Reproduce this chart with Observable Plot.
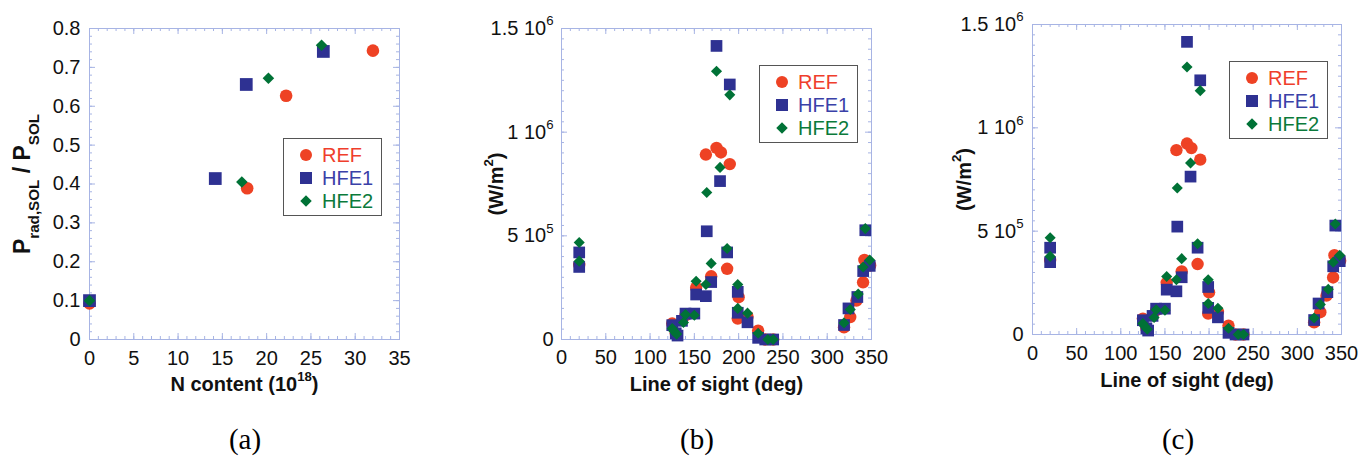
<!DOCTYPE html>
<html><head><meta charset="utf-8">
<script src="https://cdn.jsdelivr.net/npm/d3@7"></script>
<script src="https://cdn.jsdelivr.net/npm/@observablehq/plot@0.6"></script>
<style>
body{margin:0;background:#fff;}
#root{position:relative;width:1359px;height:463px;overflow:hidden;font-family:"Liberation Sans",Arial,sans-serif;background:#fff;}
.panel{position:absolute;top:0;}
.legend{position:absolute;border:1.5px solid #555;background:#fff;box-sizing:border-box;width:99px;height:78px;}
.legend .row{position:absolute;left:0;height:24px;width:100%;}
.legend svg{position:absolute;left:13px;top:3px;}
.legend span{position:absolute;left:38px;top:0;font-size:20px;line-height:24px;}
.caption{position:absolute;width:100px;text-align:center;font-family:"Liberation Serif","DejaVu Serif",serif;font-size:29px;line-height:30px;}
</style></head><body><div id="root"></div>
<script>
// ---------- data ----------
const seriesNames = ["REF", "HFE1", "HFE2"];
const seriesColors = ["#ee4224", "#2e3192", "#007236"];
const seriesTextColors = ["#ef3e2c", "#3a41a8", "#0b7a3b"];
const seriesSymbols = ["circle", "square", "diamond2"];

// panel (a): N content vs Prad,SOL / PSOL
const nRef = [0, 17.8, 22.2, 32.0];
const pRef = [0.093, 0.389, 0.627, 0.743];
const nHfe1 = [0, 14.2, 17.7, 26.4];
const pHfe1 = [0.100, 0.414, 0.656, 0.741];
const nHfe2 = [0, 17.2, 20.2, 26.2];
const pHfe2 = [0.100, 0.405, 0.672, 0.757];

// panels (b) and (c): line of sight vs heat load (W/m^2)
const losRef = [20, 125, 129, 140, 152, 163, 169, 175, 180, 187, 190, 199, 200, 210, 222, 230, 239, 319, 326, 333, 340.5, 342, 348.5];
const qRef = [360000, 77000, 30000, 117000, 250000, 892000, 305000, 924000, 902000, 341000, 846000, 101000, 204000, 110000, 43000, 0, 0, 59000, 108000, 188000, 276000, 384000, 357000];
const losHfe1 = [20, 20, 125, 129, 131, 136, 140, 150, 152, 163, 164, 169, 175, 179, 187, 190, 199, 199, 210, 222, 230, 239, 319, 324, 334, 340.6, 343, 348];
const qHfe1 = [420000, 350000, 69000, 30000, 19000, 90000, 125000, 125000, 217000, 209000, 522000, 277000, 1416000, 764000, 420000, 1230000, 230000, 129000, 83000, 8000, 0, 0, 70000, 150000, 205000, 330000, 527000, 355000];
const losHfe2 = [20, 20, 125, 127, 130, 137.7, 140, 150, 152, 163, 164, 169, 175, 179, 187, 190, 199, 199, 210, 222, 233, 239, 319, 326, 335, 340.6, 343, 348];
const qHfe2 = [468000, 378000, 53000, 40000, 26000, 82000, 120000, 117000, 281000, 265000, 709000, 367000, 1294000, 830000, 439000, 1180000, 265000, 150000, 127000, 30000, 0, 0, 80000, 145000, 219000, 350000, 535000, 383000];

// ticks
const xTicksA = [0, 5, 10, 15, 20, 25, 30, 35];
const yTicksA = [0, 0.1, 0.2, 0.3, 0.4, 0.5, 0.6, 0.7, 0.8];
const yTickLabelsA = ["0", "0.1", "0.2", "0.3", "0.4", "0.5", "0.6", "0.7", "0.8"];
const xTicksB = [0, 50, 100, 150, 200, 250, 300, 350];
const yTicksB = [0, 500000, 1000000, 1500000];
const yTickLabelsB = ["0", "5 10^{5}", "1 10^{6}", "1.5 10^{6}"];

const captions = ["(a)", "(b)", "(c)"];

// ---------- helpers ----------
const frameColor = "#a7b4e4";
const toRows = (xs, ys, s) => xs.map((x, i) => ({x, y: ys[i], s}));

function range(a, b, step) { const out = []; for (let v = a; v <= b + step * 1e-6; v += step) out.push(+v.toFixed(6)); return out; }

function frameTicks(xMinor, xMajor, yMinor, yMajor, plotW, plotH) {
  const marks = [];
  const add = (vals, len) => {
    marks.push(Plot.ruleX(vals.x, {x: d => d, insetTop: plotH - len, stroke: frameColor}));
    marks.push(Plot.ruleX(vals.x, {x: d => d, insetBottom: plotH - len, stroke: frameColor}));
    marks.push(Plot.ruleY(vals.y, {y: d => d, insetRight: plotW - len, stroke: frameColor}));
    marks.push(Plot.ruleY(vals.y, {y: d => d, insetLeft: plotW - len, stroke: frameColor}));
  };
  add({x: xMinor, y: yMinor}, 3);
  add({x: xMajor, y: yMajor}, 6);
  return marks;
}

function richify(svg) {
  d3.select(svg).selectAll("text").each(function () {
    const el = this;
    if (el.querySelector("tspan")) return;
    const t = el.textContent;
    if (!/[\^_]\{/.test(t)) return;
    const base = parseFloat(el.getAttribute("font-size")) || parseFloat(getComputedStyle(el).fontSize) || 20;
    const small = base * 0.66;
    const re = /([\^_])\{([^}]*)\}/g;
    let last = 0, m, offset = 0;
    const parts = [];
    while ((m = re.exec(t))) {
      if (m.index > last) parts.push({s: t.slice(last, m.index), k: ""});
      parts.push({s: m[2], k: m[1]});
      last = re.lastIndex;
    }
    if (last < t.length) parts.push({s: t.slice(last), k: ""});
    el.textContent = "";
    for (const p of parts) {
      const ts = document.createElementNS("http://www.w3.org/2000/svg", "tspan");
      let target = p.k === "^" ? -base * 0.48 : p.k === "_" ? base * 0.38 : 0;
      const dy = target - offset;
      if (dy) ts.setAttribute("dy", dy.toFixed(2));
      offset = target;
      if (p.k) ts.setAttribute("font-size", small.toFixed(1));
      ts.textContent = p.s;
      el.appendChild(ts);
    }
  });
}

const root = document.getElementById("root");

function makePanel(cfg) {
  const W = 453, H = 400;
  const plotW = W - cfg.mL - cfg.mR, plotH = H - cfg.mT - cfg.mB;
  const data = cfg.series;
  const chart = Plot.plot({
    width: W, height: H,
    marginLeft: cfg.mL, marginRight: cfg.mR, marginTop: cfg.mT, marginBottom: cfg.mB,
    style: {fontFamily: "'Liberation Sans', Arial, sans-serif", fontSize: "20px", background: "white", color: "#111"},
    x: {domain: cfg.xDomain},
    y: {domain: cfg.yDomain},
    marks: [
      ...frameTicks(cfg.xMinor, cfg.xTicks, cfg.yMinor, cfg.yTicks, plotW, plotH),
      Plot.frame({stroke: frameColor, strokeWidth: 1}),
      Plot.axisX({ticks: cfg.xTicks, tickSize: 0, tickPadding: cfg.xPad, tickFormat: d => String(d), label: cfg.xLabel, labelAnchor: "center", labelOffset: cfg.xLabelOffset, labelArrow: "none", fontSize: 20}),
      Plot.axisY({ticks: cfg.yTicks, tickSize: 0, tickPadding: cfg.yPad, tickFormat: d => cfg.yTickLabels[cfg.yTicks.indexOf(d)], label: cfg.yLabel, labelAnchor: "center", labelOffset: cfg.yLabelOffset, labelArrow: "none", fontSize: 20}),
      ...data.map((rows, i) => Plot.dot(rows, {x: "x", y: "y", symbol: () => seriesSymbols[i], r: cfg.r[i], fill: seriesColors[i], stroke: "none"}))
    ]
  });
  d3.select(chart).selectAll('[aria-label="x-axis label"] text').attr("font-weight", "bold").attr("font-size", 20);
  d3.select(chart).selectAll('[aria-label="y-axis label"] text').attr("font-weight", "bold").attr("font-size", cfg.yLabelSize);
  richify(chart);
  const wrap = document.createElement("div");
  wrap.className = "panel";
  wrap.style.left = cfg.left + "px";
  wrap.style.top = "0px";
  wrap.appendChild(chart);
  root.appendChild(wrap);

  // legend
  const lg = document.createElement("div");
  lg.className = "legend";
  lg.style.left = cfg.legend[0] + "px";
  lg.style.top = cfg.legend[1] + "px";
  const symSizes = [Math.PI * 6 * 6, 12 * 12, 9.2 * 9.2];
  const d3Sym = [d3.symbolCircle, d3.symbolSquare, d3.symbolDiamond2];
  seriesNames.forEach((name, i) => {
    const row = document.createElement("div");
    row.className = "row";
    row.style.top = (4 + i * 23) + "px";
    const s = d3.create("svg").attr("width", 18).attr("height", 18);
    s.append("path").attr("transform", "translate(9,9)").attr("d", d3.symbol(d3Sym[i], symSizes[i])()).attr("fill", seriesColors[i]);
    row.appendChild(s.node());
    const sp = document.createElement("span");
    sp.textContent = name;
    sp.style.color = seriesTextColors[i];
    row.appendChild(sp);
    lg.appendChild(row);
  });
  root.appendChild(lg);

  const cap = document.createElement("div");
  cap.className = "caption";
  cap.textContent = cfg.caption;
  cap.style.left = (cfg.capX - 50) + "px";
  cap.style.top = "424px";
  root.appendChild(cap);
}

const seriesA = [toRows(nRef, pRef, 0), toRows(nHfe1, pHfe1, 1), toRows(nHfe2, pHfe2, 2)];
const seriesB = [toRows(losRef, qRef, 0), toRows(losHfe1, qHfe1, 1), toRows(losHfe2, qHfe2, 2)];

makePanel({
  left: 0, mL: 89, mR: 54, mT: 28, mB: 61,
  xDomain: [0, 35], yDomain: [0, 0.8],
  xTicks: xTicksA, xMinor: range(0, 35, 1), yTicks: yTicksA, yMinor: range(0, 0.8, 0.02), yTickLabels: yTickLabelsA,
  xPad: 11, yPad: 9, xLabel: "N content (10^{18})", xLabelOffset: 51,
  yLabel: "P_{rad,SOL} / P_{SOL}", yLabelOffset: 76, yLabelSize: 23,
  series: seriesA, r: [6.3, 7.2, 5.2],
  legend: [283, 138], caption: captions[0], capX: 245
});
makePanel({
  left: 453, mL: 108, mR: 35, mT: 28, mB: 61,
  xDomain: [0, 350], yDomain: [0, 1500000],
  xTicks: xTicksB, xMinor: range(0, 350, 10), yTicks: yTicksB, yMinor: range(0, 1500000, 50000), yTickLabels: yTickLabelsB,
  xPad: 10, yPad: 8, xLabel: "Line of sight (deg)", xLabelOffset: 51,
  yLabel: "(W/m^{2})", yLabelOffset: 73, yLabelSize: 20,
  series: seriesB, r: [6.2, 6.6, 5.0],
  legend: [759, 65], caption: captions[1], capX: 697
});
makePanel({
  left: 906, mL: 126, mR: 18, mT: 24, mB: 66,
  xDomain: [0, 350], yDomain: [0, 1500000],
  xTicks: xTicksB, xMinor: range(0, 350, 10), yTicks: yTicksB, yMinor: range(0, 1500000, 50000), yTickLabels: yTickLabelsB,
  xPad: 11, yPad: 9, xLabel: "Line of sight (deg)", xLabelOffset: 52,
  yLabel: "(W/m^{2})", yLabelOffset: 76, yLabelSize: 20,
  series: seriesB, r: [6.2, 6.6, 5.0],
  legend: [1229, 61], caption: captions[2], capX: 1178
});
</script></body></html>
